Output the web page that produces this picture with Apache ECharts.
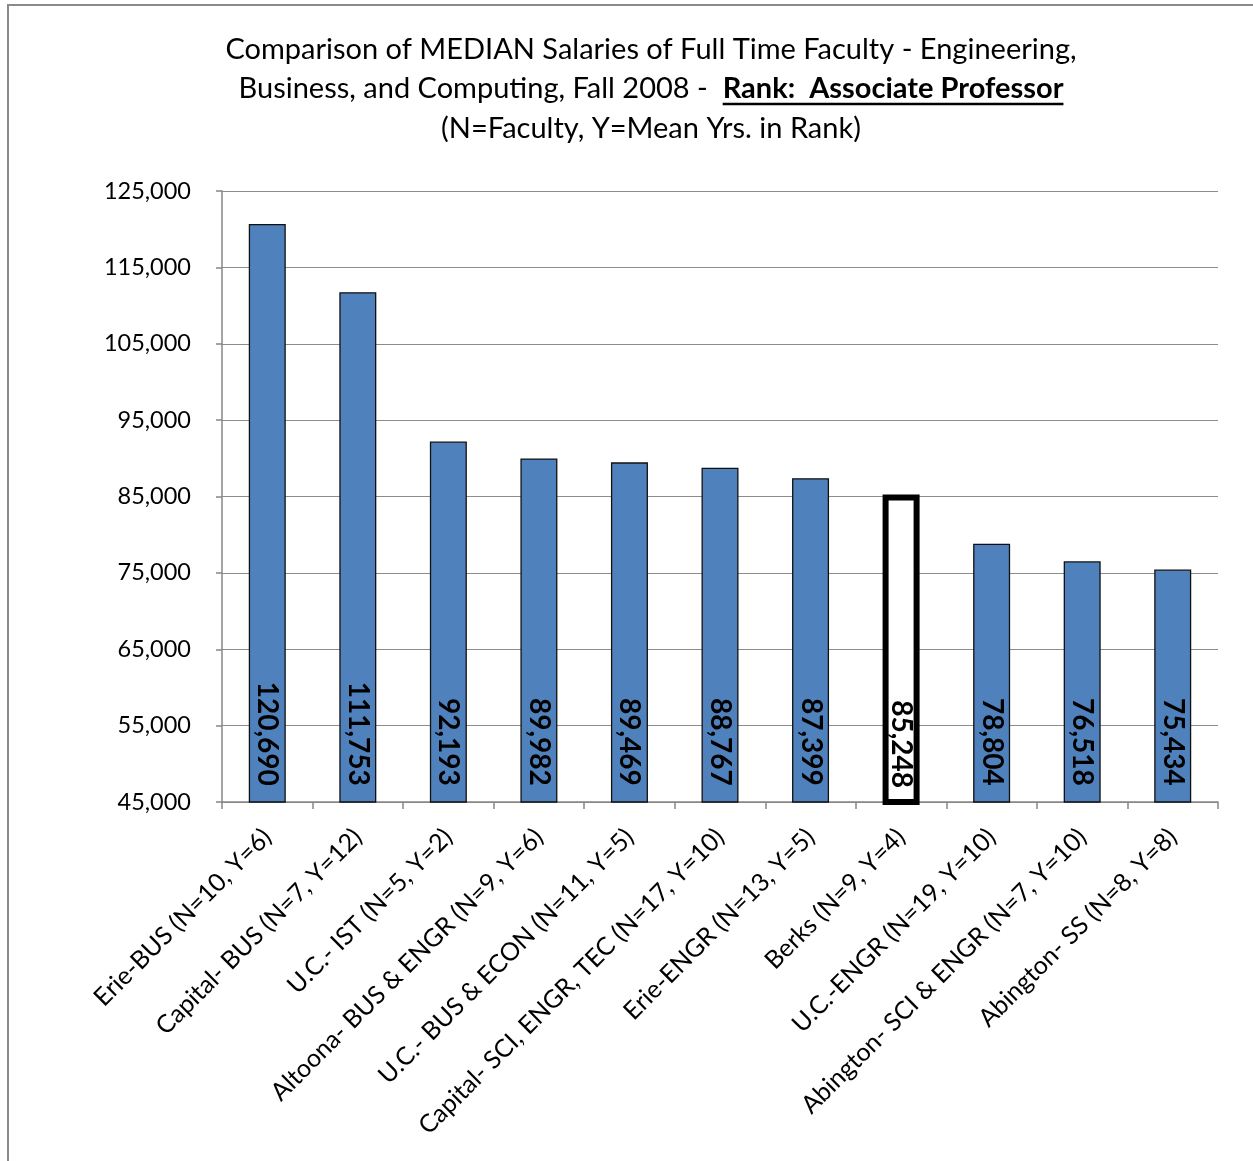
<!DOCTYPE html>
<html lang="en">
<head>
    <meta charset="UTF-8">
    <script type="text/javascript" src="https://cdn.jsdelivr.net/npm/echarts@6/dist/echarts.min.js"></script>
    <style>
        body{ margin: 0; background: #fff; }
        .chart{ width: 1253px; height: 1161px; }
    </style>
</head>
<body>
    <div class="chart" id="chart"></div>
</body>
<script>
    // categories / values
    var categories = [
        'Erie-BUS (N=10, Y=6)',
        'Capital- BUS (N=7, Y=12)',
        'U.C.- IST (N=5, Y=2)',
        'Altoona- BUS & ENGR (N=9, Y=6)',
        'U.C.- BUS & ECON (N=11, Y=5)',
        'Capital- SCI, ENGR, TEC (N=17, Y=10)',
        'Erie-ENGR (N=13, Y=5)',
        'Berks (N=9, Y=4)',
        'U.C.-ENGR (N=19, Y=10)',
        'Abington- SCI & ENGR (N=7, Y=10)',
        'Abington- SS (N=8, Y=8)'
    ];
    var salaries = [120690, 111753, 92193, 89982, 89469, 88767, 87399, 85248, 78804, 76518, 75434];
    var highlighted = 'Berks (N=9, Y=4)';

    var titleLine1 = 'Comparison of MEDIAN Salaries of Full Time Faculty - Engineering,';
    var titleLine2a = 'Business, and Computing, Fall 2008 -  ';
    var titleLine2b = 'Rank:  Associate Professor';
    var titleLine3 = '(N=Faculty, Y=Mean Yrs. in Rank)';

    var FONT = 'Lato, "Open Sans", sans-serif';
    var titleSize = 29;

    // measure title pieces so the underline sits under the bold part
    var ctx = document.createElement('canvas').getContext('2d');
    ctx.font = titleSize + 'px Lato';
    var wA = ctx.measureText(titleLine2a).width;
    ctx.font = 'bold ' + titleSize + 'px Lato';
    var wB = ctx.measureText(titleLine2b).width;
    var cx = 651;
    var startX = cx - (wA + wB) / 2;

    function fmt(v){
        return v.toLocaleString('en-US');
    }

    var barData = salaries.map(function(v, i){
        if(categories[i] == highlighted){
            return {
                value: v,
                itemStyle: { color: '#ffffff', borderColor: '#000', borderWidth: 6 }
            };
        }
        return v;
    });

    var chart = echarts.init(document.getElementById('chart'));

    var option = {
        animation: false,
        backgroundColor: '#fff',
        grid: { left: 222, right: 35, top: 191, bottom: 359, outerBoundsMode: 'none' },
        xAxis: {
            type: 'category',
            data: categories,
            axisLine: { lineStyle: { color: '#868686', width: 1.5 } },
            axisTick: { show: true, length: 7, lineStyle: { color: '#868686', width: 1.5 } },
            axisLabel: {
                interval: 0,
                rotate: 45,
                margin: 31,
                color: '#000',
                fontFamily: FONT,
                fontSize: 25
            }
        },
        yAxis: {
            type: 'value',
            min: 45000,
            max: 125000,
            interval: 10000,
            axisLine: { show: true, lineStyle: { color: '#868686', width: 1.5 } },
            axisTick: { show: true, length: 6, lineStyle: { color: '#868686', width: 1.5 } },
            splitLine: { lineStyle: { color: '#8c8c8c', width: 1.2 } },
            axisLabel: {
                color: '#000',
                fontFamily: FONT,
                fontSize: 23.5,
                margin: 31,
                formatter: function(v){ return fmt(v); }
            }
        },
        series: [{
            type: 'bar',
            data: barData,
            barWidth: 37,
            itemStyle: { color: '#4F81BD', borderColor: '#111', borderWidth: 1.3 },
            label: {
                show: true,
                position: 'insideBottom',
                distance: 17,
                rotate: -90,
                align: 'right',
                verticalAlign: 'middle',
                color: '#000',
                fontFamily: FONT,
                fontWeight: 'bold',
                fontSize: 28,
                formatter: function(p){ return fmt(p.value); }
            }
        }],
        graphic: [
            {
                type: 'rect',
                shape: { x: 8, y: 5, width: 1300, height: 1200 },
                style: { fill: 'none', stroke: '#8a8a8a', lineWidth: 2 },
                silent: true
            },
            {
                type: 'text', x: cx, y: 50,
                style: { text: titleLine1, font: titleSize + 'px ' + FONT, fill: '#000', textAlign: 'center', textVerticalAlign: 'middle' }
            },
            {
                type: 'text', x: startX, y: 89,
                style: { text: titleLine2a, font: titleSize + 'px ' + FONT, fill: '#000', textAlign: 'left', textVerticalAlign: 'middle' }
            },
            {
                type: 'text', x: startX + wA, y: 89,
                style: { text: titleLine2b, font: 'bold ' + titleSize + 'px ' + FONT, fill: '#000', textAlign: 'left', textVerticalAlign: 'middle' }
            },
            {
                type: 'line',
                shape: { x1: startX + wA, y1: 104, x2: startX + wA + wB, y2: 104 },
                style: { stroke: '#000', lineWidth: 2.5 }
            },
            {
                type: 'text', x: cx, y: 129,
                style: { text: titleLine3, font: titleSize + 'px ' + FONT, fill: '#000', textAlign: 'center', textVerticalAlign: 'middle' }
            }
        ]
    };

    chart.setOption(option);
</script>
</html>
